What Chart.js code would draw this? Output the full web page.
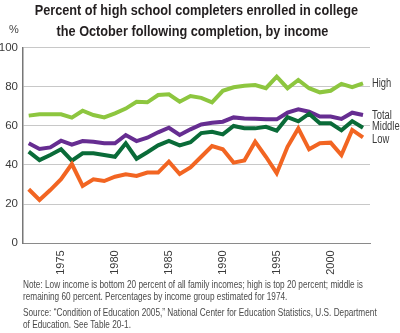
<!DOCTYPE html>
<html>
<head>
<meta charset="utf-8">
<script src="https://cdn.jsdelivr.net/npm/chart.js@4/dist/chart.umd.min.js"></script>
<style>
  html, body { margin:0; padding:0; background:#fff; }
  #wrap { position:relative; width:400px; height:333px; overflow:hidden; font-family:"Liberation Sans", Arial, sans-serif; }
  #chart { position:absolute; left:0; top:0; }
  .title { position:absolute; left:0; width:385px; text-align:center; font-weight:bold; font-size:15.5px; color:#231f20; white-space:nowrap; transform:scaleX(0.82); transform-origin:192.5px 0; }
  .pct { position:absolute; left:9px; top:23px; font-size:11px; color:#444; }
  .note { position:absolute; left:23px; font-size:10.5px; color:#4a4a4a; white-space:nowrap; transform:scaleX(0.785); transform-origin:0 0; }
</style>
</head>
<body>
<div id="wrap">
  <canvas id="chart" width="400" height="333"></canvas>
  <div class="title" style="top:1px">Percent of high school completers enrolled in college</div>
  <div class="title" style="top:22px">the October following completion, by income</div>
  <div class="pct">%</div>
  <div class="note" style="top:278px">Note: Low income is bottom 20 percent of all family incomes; high is top 20 percent; middle is</div>
  <div class="note" style="top:290px">remaining 60 percent. Percentages by income group estimated for 1974.</div>
  <div class="note" style="top:306px">Source: “Condition of Education 2005,” National Center for Education Statistics, U.S. Department</div>
  <div class="note" style="top:318px">of Education. See Table 20-1.</div>
</div>
<script>
(function(){
  // enrollment rates, 1972-2003
  const years = [1972,1973,1974,1975,1976,1977,1978,1979,1980,1981,1982,1983,1984,1985,1986,1987,
                 1988,1989,1990,1991,1992,1993,1994,1995,1996,1997,1998,1999,2000,2001,2002,2003];
  const high   = [65.2,65.9,65.9,65.9,64.2,67.7,65.5,64.3,66.4,68.8,72.3,72.0,75.7,76.1,72.3,75.2,
                   74.3,72.0,77.9,79.7,80.5,80.8,79.2,85.1,79.2,83.4,79.2,77.1,77.9,81.4,79.7,81.7];
  const total  = [51.1,48.2,49.0,52.4,50.4,52.2,51.9,51.1,51.1,55.3,52.2,53.9,56.7,59.0,55.3,58.2,
                   60.7,61.6,62.1,64.3,63.8,63.6,63.3,63.3,66.7,68.4,67.2,64.7,64.7,63.5,66.7,65.5];
  const middle = [46.8,42.5,45.1,48.0,42.2,46.0,46.0,45.1,44.2,51.1,43.2,46.5,50.0,52.3,50.0,51.6,
                   56.3,57.0,55.6,59.9,58.8,58.7,59.5,57.5,64.4,62.3,66.2,61.3,61.3,57.7,62.4,59.0];
  const low    = [27.6,22.1,27.2,32.7,40.5,29.3,32.7,31.8,34.0,35.2,34.4,36.1,36.1,41.7,35.4,38.8,
                   44.2,49.7,48.0,41.2,42.3,51.9,44.2,35.8,49.3,58.7,48.0,51.1,51.4,45.1,57.9,54.1];
  const yearTicks = [1975,1980,1985,1990,1995,2000];
  const yTicks = [0,20,40,60,80,100];

  const pts = (arr)=> arr.map((v,i)=>({x: years[i], y: v}));

  const mk = (label, data, color, order)=>({
    label, data: pts(data), borderColor: color, backgroundColor: color,
    borderWidth: 4, pointRadius: 0, tension: 0, fill: false, order
  });

  // series names next to the last point
  const endLabels = {
    id: 'endLabels',
    afterDatasetsDraw(chart){
      const ctx = chart.ctx;
      const nudge = { High: 0, Total: 0, Middle: -1, Low: 2 };
      ctx.save();
      ctx.fillStyle = '#3a3a3a';
      ctx.font = '12.5px "Liberation Sans", Arial, sans-serif';
      ctx.textBaseline = 'middle';
      chart.data.datasets.forEach((ds, i)=>{
        const meta = chart.getDatasetMeta(i);
        const last = meta.data[meta.data.length - 1];
        const x = chart.chartArea.right + 2;
        const y = last.y + (nudge[ds.label] || 0);
        ctx.save();
        ctx.translate(x, y);
        ctx.scale(0.75, 1);
        ctx.fillText(ds.label, 0, 0);
        ctx.restore();
      });
      ctx.restore();
    }
  };

  new Chart(document.getElementById('chart'), {
    type: 'line',
    data: {
      datasets: [
        mk('Low', low, '#f26522', 0),
        mk('Middle', middle, '#0a6b38', 1),
        mk('Total', total, '#662d91', 2),
        mk('High', high, '#8dc63f', 3)
      ]
    },
    options: {
      responsive: false,
      animation: false,
      devicePixelRatio: 1,
      layout: { padding: { left: 0, right: 30, top: 47.5, bottom: 0 } },
      plugins: { legend: { display: false }, tooltip: { enabled: false }, title: { display: false } },
      scales: {
        x: {
          type: 'linear',
          min: 1971.47,
          max: 2003.65,
          afterBuildTicks: (axis)=>{ axis.ticks = yearTicks.map(v=>({ value: v })); },
          afterFit: (axis)=>{ axis.height = 89.7; },
          grid: { display: false, drawTicks: false },
          border: { display: true, color: '#8a8a8a', width: 1 },
          ticks: {
            autoSkip: false, minRotation: 90, maxRotation: 90, padding: 7,
            color: '#3a3a3a',
            font: { family: '"Liberation Sans Narrow", "Liberation Sans", Arial, sans-serif', size: 11 },
            callback: (v)=> String(v)
          }
        },
        y: {
          min: 0,
          max: 100,
          afterBuildTicks: (axis)=>{ axis.ticks = yTicks.map(v=>({ value: v })); },
          afterFit: (axis)=>{ axis.width = 23; },
          grid: { color: '#c8c8c8', lineWidth: 1, drawTicks: false },
          border: { display: true, color: '#777', width: 1.5 },
          ticks: {
            padding: 5, color: '#3a3a3a',
            font: { family: '"Liberation Sans Narrow", "Liberation Sans", Arial, sans-serif', size: 11.5 },
            callback: (v)=> String(v)
          }
        }
      }
    },
    plugins: [endLabels]
  });
})();
</script>
</body>
</html>
